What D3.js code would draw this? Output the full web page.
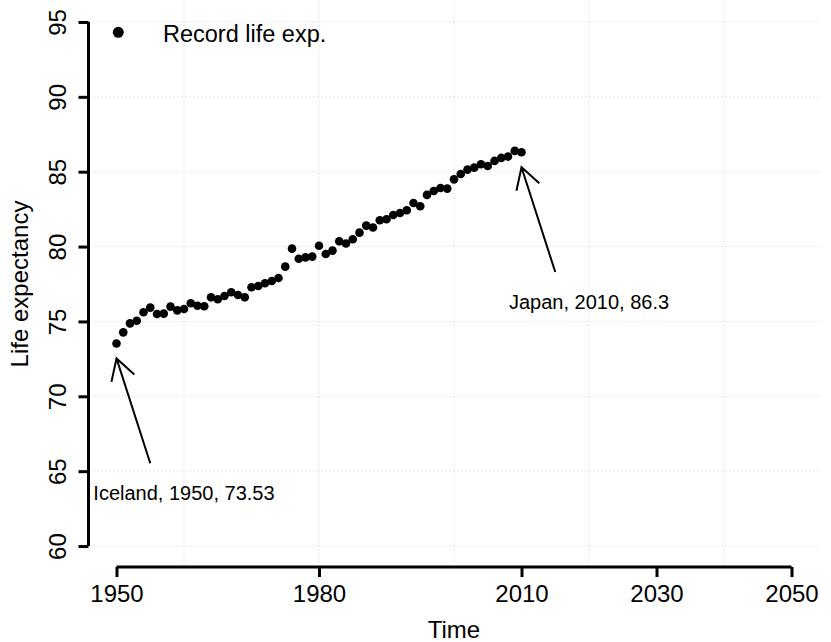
<!DOCTYPE html>
<html>
<head>
<meta charset="utf-8">
<script src="https://cdn.jsdelivr.net/npm/d3@7"></script>
<style>
  html, body { margin: 0; padding: 0; background: #fff; }
  svg { display: block; font-family: "Liberation Sans", Arial, Helvetica, sans-serif; }
</style>
</head>
<body>
<svg id="chart" width="831" height="642"></svg>
<script>
// ---- Data ----
const years = d3.range(1950, 2011);
const recordLifeExp = [
  73.53, 74.27, 74.87, 75.05, 75.61, 75.92, 75.50, 75.52, 75.99, 75.74,
  75.83, 76.21, 76.05, 76.01, 76.61, 76.48, 76.70, 76.95, 76.77, 76.61,
  77.28, 77.37, 77.55, 77.70, 77.90, 78.66, 79.86, 79.19, 79.28, 79.33,
  80.05, 79.50, 79.73, 80.35, 80.20, 80.49, 80.93, 81.40, 81.27, 81.76,
  81.82, 82.11, 82.24, 82.43, 82.91, 82.69, 83.45, 83.71, 83.91, 83.87,
  84.49, 84.85, 85.14, 85.27, 85.50, 85.38, 85.72, 85.92, 86.01, 86.39,
  86.30
];
const xTicks = [1950, 1980, 2010, 2030, 2050];
const xGrid = [1960, 1980, 2000, 2020, 2040];
const yTicks = [60, 65, 70, 75, 80, 85, 90, 95];
const annoYears = [1950, 2010];
const annoValues = [73.53, 86.3];
const annoLabels = ["Iceland, 1950, 73.53", "Japan, 2010, 86.3"];
const legendLabel = "Record life exp.";
const xTitle = "Time";
const yTitle = "Life expectancy";

// ---- Layout ----
const svg = d3.select("#chart");
const plot = { left: 89.5, right: 818.5, top: 1, bottom: 567 };
const x = d3.scaleLinear().domain([1946, 2054]).range([plot.left, plot.right]);
const y = d3.scaleLinear().domain([58.6, 96.4]).range([plot.bottom, plot.top]);

// grid
const grid = svg.append("g").attr("stroke", "#cfcfcf").attr("stroke-width", 1)
  .attr("stroke-dasharray", "1,3");
grid.selectAll("line.h").data(yTicks).join("line").attr("class", "h")
  .attr("x1", plot.left).attr("x2", plot.right)
  .attr("y1", d => y(d)).attr("y2", d => y(d));
grid.selectAll("line.v").data(xGrid).join("line").attr("class", "v")
  .attr("y1", plot.top).attr("y2", plot.bottom)
  .attr("x1", d => x(d)).attr("x2", d => x(d));

// x axis
const xAxis = d3.axisBottom(x).tickValues(xTicks).tickSize(10).tickSizeOuter(0)
  .tickFormat(d3.format("d")).tickPadding(4);
const gx = svg.append("g").attr("transform", `translate(0,${plot.bottom})`).call(xAxis);
gx.select(".domain").attr("d", `M${x(1950)},0H${x(2050)}`).attr("stroke-width", 3);
gx.selectAll(".tick line").attr("stroke-width", 3);
gx.selectAll(".tick text").attr("font-size", 24).attr("fill", "#000")
  .attr("font-family", "Liberation Sans, Arial, sans-serif").attr("dy", null).attr("y", 35);

// y axis
const yAxis = d3.axisLeft(y).tickValues(yTicks).tickSize(10).tickSizeOuter(0);
const gy = svg.append("g").attr("transform", `translate(${plot.left - 1},0)`).call(yAxis);
gy.select(".domain").attr("d", `M0,${y(60)}V${y(95)}`).attr("stroke-width", 3);
gy.selectAll(".tick line").attr("stroke-width", 3);
gy.selectAll(".tick text")
  .attr("font-size", 24).attr("fill", "#000")
  .attr("font-family", "Liberation Sans, Arial, sans-serif")
  .attr("x", null).attr("dy", null).attr("y", null)
  .attr("text-anchor", "middle")
  .attr("transform", "translate(-22.5,0) rotate(-90)");

// titles
svg.append("text").attr("x", (plot.left + plot.right) / 2).attr("y", 638)
  .attr("text-anchor", "middle").attr("font-size", 24).text(xTitle);
svg.append("text").attr("transform", `translate(28,${(plot.top + plot.bottom) / 2}) rotate(-90)`)
  .attr("text-anchor", "middle").attr("font-size", 24).text(yTitle);

// points
svg.append("g").selectAll("circle").data(years.map((yr, i) => [yr, recordLifeExp[i]]))
  .join("circle")
  .attr("cx", d => x(d[0])).attr("cy", d => y(d[1])).attr("r", 4.3).attr("fill", "#000");

// annotations
const headLen = 24, headAng = Math.PI / 6;
annoYears.forEach((yr, i) => {
  const v = annoValues[i];
  const x0 = x(yr + 5), y0 = y(v - 8);
  const x1 = x(yr), y1 = y(v - 1);
  const ang = Math.atan2(y1 - y0, x1 - x0);
  const a1 = ang + Math.PI - headAng, a2 = ang + Math.PI + headAng;
  const p = `M${x0},${y0}L${x1},${y1}` +
    `M${x1 + headLen * Math.cos(a1)},${y1 + headLen * Math.sin(a1)}L${x1},${y1}` +
    `L${x1 + headLen * Math.cos(a2)},${y1 + headLen * Math.sin(a2)}`;
  svg.append("path").attr("d", p).attr("fill", "none").attr("stroke", "#000")
    .attr("stroke-width", 2);
  svg.append("text").attr("x", x(yr + 10)).attr("y", y(v - 10)).attr("dy", "0.33em")
    .attr("text-anchor", "middle").attr("font-size", 20).text(annoLabels[i]);
});

// legend
svg.append("circle").attr("cx", 118.3).attr("cy", 32.3).attr("r", 5.5).attr("fill", "#000");
svg.append("text").attr("x", 163).attr("y", 41.5).attr("font-size", 23.5).text(legendLabel);
</script>
</body>
</html>
